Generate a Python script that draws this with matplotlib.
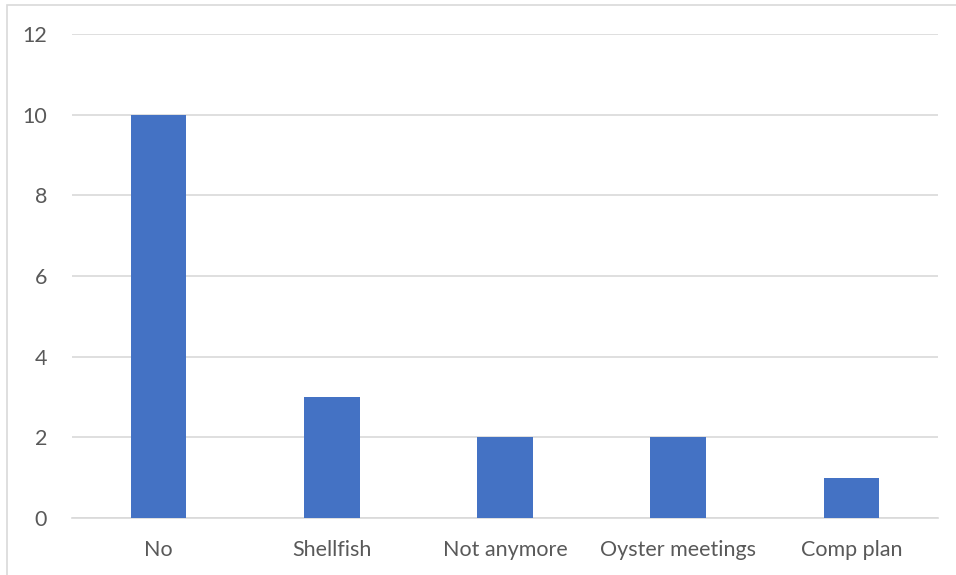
import matplotlib
matplotlib.use("Agg")
import matplotlib.pyplot as plt
from matplotlib.patches import Rectangle

categories = ["No", "Shellfish", "Not anymore", "Oyster meetings", "Comp plan"]
counts = [10, 3, 2, 2, 1]
y_ticks = [0, 2, 4, 6, 8, 10, 12]

W, H = 956, 575
fig = plt.figure(figsize=(W / 100, H / 100), dpi=100)
plt.rcParams['font.family'] = ['Lato', 'DejaVu Sans']

# plot area in pixels: x 72..938, y 34..518
ax = fig.add_axes([72 / W, 1 - 518 / H, (938 - 72) / W, (518 - 34) / H])

x = range(len(categories))
ax.bar(x, counts, width=0.32, color='#4472C4', zorder=3)

ax.set_xlim(-0.5, len(categories) - 0.5)
ax.set_ylim(0, 12)
ax.set_yticks(y_ticks)
ax.set_xticks(list(x))
ax.set_xticklabels(categories)
ax.yaxis.grid(True, color='#d9d9d9', linewidth=1.2, zorder=0)
ax.tick_params(axis='both', length=0, labelsize=15.5, colors='#595959')
ax.tick_params(axis='y', pad=18)
ax.tick_params(axis='x', pad=15.5)
for side in ['top', 'right', 'left']:
    ax.spines[side].set_visible(False)
ax.spines['bottom'].set_color('#d9d9d9')
ax.spines['bottom'].set_linewidth(1.2)

# chart border (cropped on the right and bottom)
fig.patches.append(Rectangle((6.5 / W, -0.1), 1.2, 1 - 4.5 / H + 0.1,
                             transform=fig.transFigure, fill=False,
                             edgecolor='#d9d9d9', linewidth=1.2))

fig.savefig("out.png", dpi=100)
